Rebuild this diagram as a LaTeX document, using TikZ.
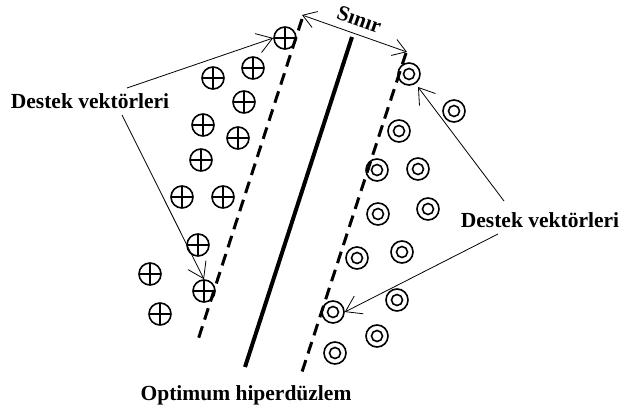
\documentclass[tikz,border=0pt]{standalone}
\usepackage{fontspec}
\setmainfont{Liberation Serif}
\usetikzlibrary{arrows.meta}
\begin{document}
\begin{tikzpicture}[x=1pt,y=-1pt,
  lbl/.style={font=\fontsize{21.5}{24}\selectfont\bfseries, inner sep=0pt},
  pluspt/.style={circle, draw, line width=1.6pt, minimum size=22pt, inner sep=0pt,
    path picture={\draw[line width=1.5pt]
      (path picture bounding box.north) -- (path picture bounding box.south)
      (path picture bounding box.west) -- (path picture bounding box.east);}},
  ringpt/.style={circle, draw, line width=1.6pt, minimum size=22pt, inner sep=0pt,
    path picture={\draw[line width=1.6pt]
      (path picture bounding box.center) circle (5.5pt);}},
  margin/.style={line width=3pt, dash pattern=on 12pt off 7pt},
  pointer/.style={line width=0.8pt, -{Straight Barb[length=15pt,width=20pt,line width=0.8pt]}},
  gap/.style={line width=0.8pt, {Straight Barb[length=13pt,width=17pt,line width=0.8pt]}-{Straight Barb[length=13pt,width=17pt,line width=0.8pt]}}
]
\useasboundingbox (0,0) rectangle (619,405);

% margin lines and the separating hyperplane
\coordinate (lt) at (302,19);
\coordinate (lb) at (197,343);
\coordinate (rt) at (406,53);
\coordinate (rb) at (301,375);
\coordinate (ht) at (352,37);
\coordinate (hb) at (245,367);
\draw[margin] (lt) -- (lb);
\draw[margin] (rt) -- (rb);
\draw[line width=4pt] (ht) -- (hb);

% class "+" samples
\node[pluspt] (p1) at (285,38) {};
\node[pluspt] (p2) at (253,68) {};
\node[pluspt] (p3) at (213,78) {};
\node[pluspt] (p4) at (244,102) {};
\node[pluspt] (p5) at (203,125) {};
\node[pluspt] (p6) at (238,138) {};
\node[pluspt] (p7) at (201,160) {};
\node[pluspt] (p8) at (182,197) {};
\node[pluspt] (p9) at (223,197) {};
\node[pluspt] (p10) at (198,245) {};
\node[pluspt] (p11) at (150,274) {};
\node[pluspt] (p12) at (204,291) {};
\node[pluspt] (p13) at (160,314) {};

% class "o" samples
\node[ringpt] (o1) at (409,74) {};
\node[ringpt] (o2) at (454,111) {};
\node[ringpt] (o3) at (399,131) {};
\node[ringpt] (o4) at (377,170) {};
\node[ringpt] (o5) at (418,169) {};
\node[ringpt] (o6) at (378,214) {};
\node[ringpt] (o7) at (428,209) {};
\node[ringpt] (o8) at (357,258) {};
\node[ringpt] (o9) at (402,252) {};
\node[ringpt] (o10) at (333,312) {};
\node[ringpt] (o11) at (397,300) {};
\node[ringpt] (o12) at (377,336) {};
\node[ringpt] (o13) at (335,353) {};

% margin width
\coordinate (sl) at (302,15);
\coordinate (sr) at (407,52);
\draw[gap] (sl) -- (sr);
\node[lbl, rotate=-19.5, anchor=base] (sinir) at (357,26) {Sınır};

% labels
\node[lbl] (dl) at (90,101) {Destek vektörleri};
\node[lbl] (dr) at (540,220) {Destek vektörleri};
\node[lbl, anchor=base] (opt) at (246,400) {Optimum hiperdüzlem};

% pointers to the support vectors
\coordinate (a1) at (127,88);
\coordinate (a2) at (122,115);
\coordinate (b1) at (504,201);
\coordinate (b2) at (498,234);
\draw[pointer] (a1) -- (p1.west);
\draw[pointer] (a2) -- (p12.north);
\draw[pointer] (b1) -- (418,87);
\draw[pointer] (b2) -- (o10.east);
\end{tikzpicture}
\end{document}
